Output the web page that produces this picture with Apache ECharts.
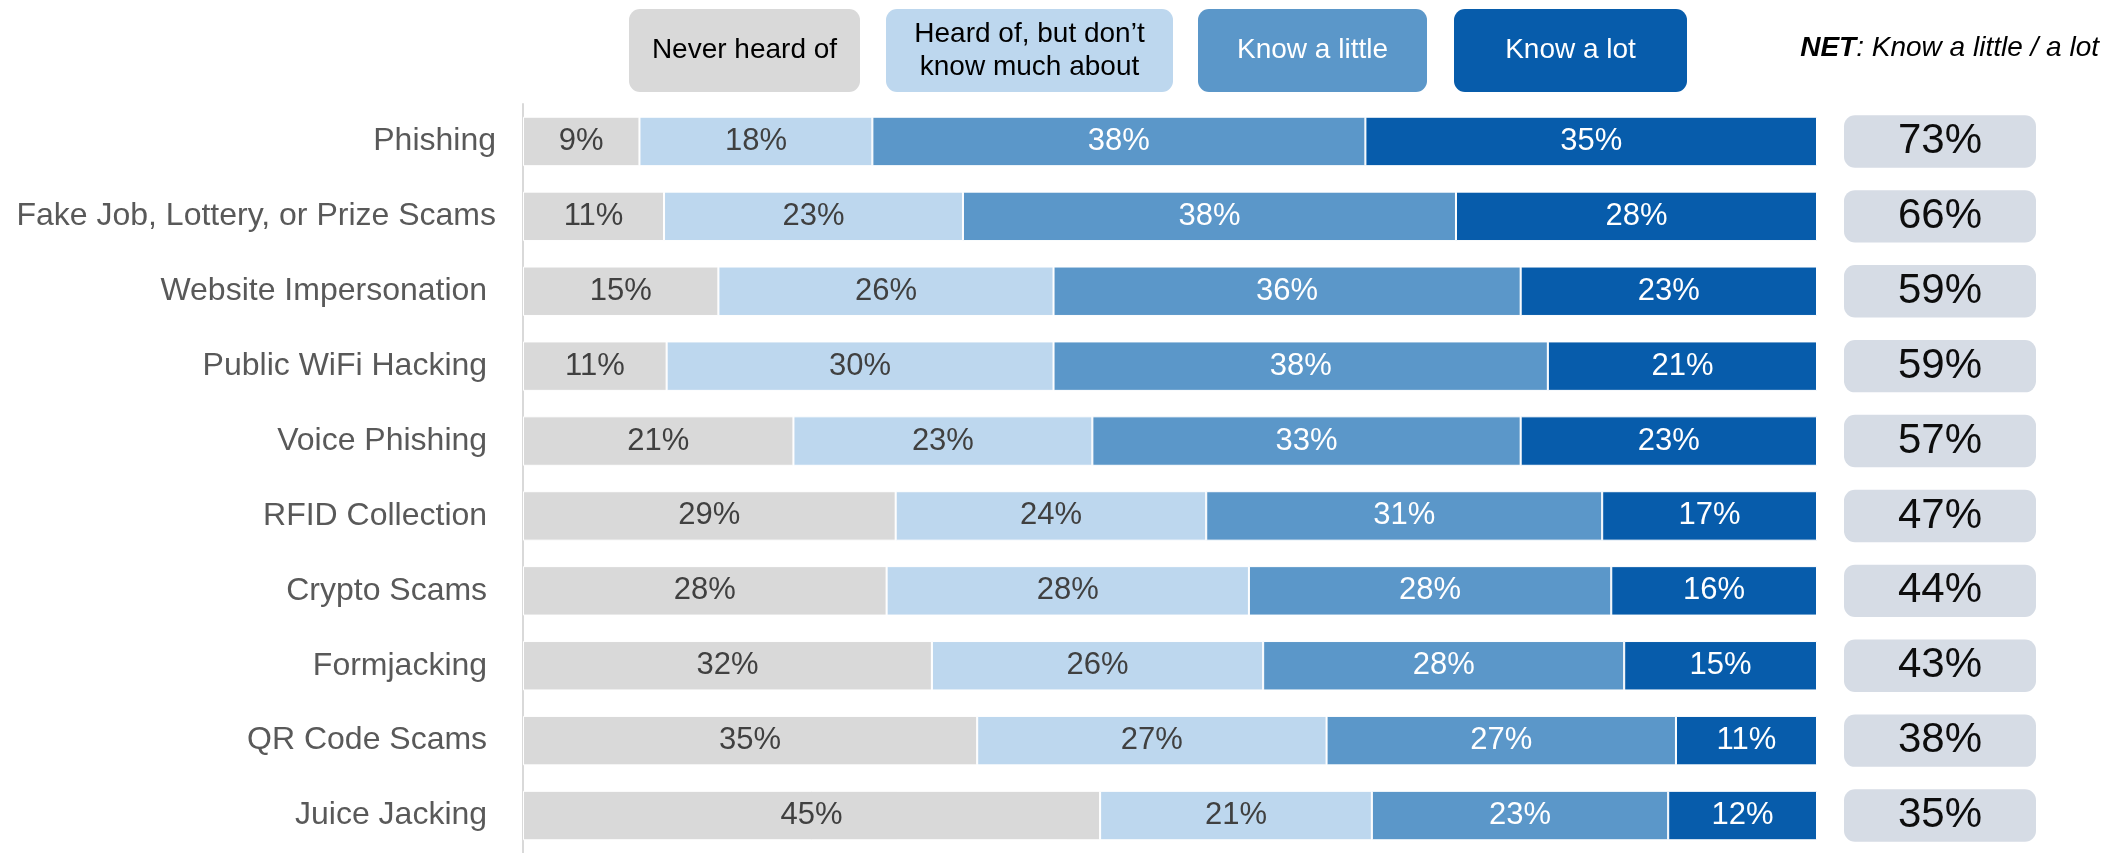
<!DOCTYPE html>
<html>
<head>
<meta charset="utf-8">
<script src="https://cdn.jsdelivr.net/npm/echarts@6/dist/echarts.min.js"></script>
<style>
  html, body { margin: 0; padding: 0; background: #fff; }
  #main { width: 2121px; height: 853px; }
</style>
</head>
<body>
<div id="main"></div>
<script>
// categories, top to bottom (trailing spaces as in the original labels)
const categories = [
  'Phishing', 'Fake Job, Lottery, or Prize Scams', 'Website Impersonation ', 'Public WiFi Hacking ',
  'Voice Phishing ', 'RFID Collection ', 'Crypto Scams ', 'Formjacking ', 'QR Code Scams ', 'Juice Jacking '
];
const seriesNames = ['Never heard of', 'Heard of, but don\u2019t\nknow much about', 'Know a little', 'Know a lot'];
const neverHeard = [9.0, 10.9, 15.1, 11.1, 20.9, 28.8, 28.1, 31.6, 35.1, 44.6];
const heardOf = [18.0, 23.1, 25.9, 29.9, 23.1, 24.0, 28.0, 25.6, 27.0, 21.0];
const knowLittle = [38.1, 38.1, 36.1, 38.2, 33.1, 30.6, 28.0, 27.9, 27.0, 22.9];
const knowLot = [34.9, 27.9, 22.9, 20.8, 22.9, 16.6, 15.9, 14.9, 10.9, 11.5];
const netValues = [73, 66, 59, 59, 57, 47, 44, 43, 38, 35];

const colors = ['#d9d9d9', '#bdd7ee', '#5b97c9', '#075cab'];
const labelColors = ['#404040', '#404040', '#ffffff', '#ffffff'];
const font = '"Liberation Sans", Arial, sans-serif';

let myChart = echarts.init(document.getElementById('main'));

const barData = [neverHeard, heardOf, knowLittle, knowLot];

// legend boxes drawn as graphics
const legendBoxes = [
  { x: 629, w: 231 },
  { x: 886, w: 287 },
  { x: 1198, w: 229 },
  { x: 1454, w: 233 }
];
const legendGraphics = seriesNames.map((name, i) => ({
  type: 'rect',
  shape: { x: legendBoxes[i].x, y: 9, width: legendBoxes[i].w, height: 83, r: 11 },
  style: { fill: colors[i] },
  textContent: {
    style: {
      text: name, fontSize: 28, fontFamily: font, fill: i < 2 ? '#000' : '#fff',
      align: 'center', lineHeight: 33
    }
  },
  textConfig: { position: 'inside' }
}));
legendGraphics.push({
  type: 'text',
  right: 22,
  top: 34,
  style: {
    text: '{b|NET}: Know a little / a lot',
    fontSize: 28, fontFamily: font, fontStyle: 'italic', fill: '#000',
    rich: { b: { fontSize: 28, fontFamily: font, fontStyle: 'italic', fontWeight: 'bold', fill: '#000' } }
  }
});

myChart.setOption({
  animation: false,
  graphic: legendGraphics,
  grid: [
    { left: 523, width: 1294, top: 104, height: 755 },
    { left: 1844, width: 192, top: 104, height: 755 }
  ],
  xAxis: [
    { gridIndex: 0, type: 'value', min: 0, max: 100, show: false },
    { gridIndex: 1, type: 'value', min: 0, max: 100, show: false }
  ],
  yAxis: [
    {
      gridIndex: 0,
      type: 'category',
      inverse: true,
      data: categories,
      axisLine: { lineStyle: { color: '#d9d9d9', width: 2 } },
      axisTick: { length: 8, lineStyle: { color: '#d9d9d9', width: 2 } },
      axisLabel: { color: '#595959', fontSize: 32, fontFamily: font, margin: 27 }
    },
    { gridIndex: 1, type: 'category', inverse: true, data: categories, show: false }
  ],
  series: barData.map((d, i) => ({
    name: seriesNames[i],
    type: 'bar',
    stack: 'total',
    barWidth: '66%',
    data: d,
    itemStyle: { color: colors[i], borderColor: '#ffffff', borderWidth: 1 },
    label: {
      show: true,
      position: 'inside',
      color: labelColors[i],
      fontSize: 31,
      fontFamily: font,
      formatter: p => Math.round(p.value) + '%'
    }
  })).concat([{
    type: 'custom',
    xAxisIndex: 1,
    yAxisIndex: 1,
    data: netValues.map((v, i) => [v, i]),
    encode: { x: 0, y: 1 },
    renderItem: (params, api) => {
      const cy = api.coord([0, api.value(1)])[1];
      const h = api.size([0, 1])[1] * 0.7;
      return {
        type: 'rect',
        shape: { x: params.coordSys.x, y: cy - h / 2, width: params.coordSys.width, height: h, r: 11 },
        style: { fill: '#d6dce5' },
        textContent: {
          style: { text: api.value(0) + '%', fontSize: 42, fontFamily: font, fill: '#0d0d0d' }
        },
        textConfig: { position: 'inside' }
      };
    }
  }])
});
</script>
</body>
</html>
